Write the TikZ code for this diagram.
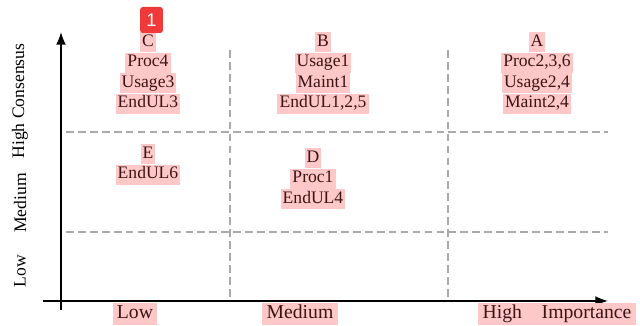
\documentclass[tikz,border=0pt]{standalone}
\usepackage{fontspec}
\setmainfont{Liberation Serif}
\setsansfont{Liberation Sans}
\usetikzlibrary{positioning, arrows.meta}
\definecolor{hl}{RGB}{255,200,200}
\definecolor{hltext}{RGB}{60,20,20}
\definecolor{gridgray}{RGB}{170,170,170}
\definecolor{badgered}{RGB}{240,58,58}

\begin{document}
\begin{tikzpicture}[x=0.025cm, y=-0.025cm, node distance=0pt,
    item/.style={fill=hl, text=hltext, font=\fontsize{12.5}{14}\selectfont,
      inner xsep=1.5pt, inner ysep=1.4pt, text height=8.8pt, text depth=2.6pt},
    level/.style={fill=hl, text=hltext, font=\fontsize{14}{16}\selectfont,
      inner xsep=3pt, inner ysep=1pt, text height=10pt, text depth=3pt},
    side/.style={rotate=90, font=\fontsize{12.5}{15}\selectfont},
    axis/.style={line width=1.2pt, -{Latex[length=9pt,width=7pt]}},
    sep/.style={draw=gridgray, line width=2pt, dash pattern=on 5.5pt off 3pt},
    badge/.style={fill=badgered, text=white, rounded corners=2pt,
      minimum width=0.57cm, minimum height=0.65cm, inner sep=0pt,
      font=\sffamily\fontsize{13}{15}\selectfont}]
  \useasboundingbox (0,0) rectangle (640,326);
  % axes
  \coordinate (ybot) at (61,310);
  \coordinate (ytop) at (61,32);
  \coordinate (xleft) at (43,301);
  \coordinate (xend) at (608,301);
  \draw[axis] (ybot) -- (ytop);
  \draw[axis] (xleft) -- (xend);
  % separators
  \coordinate (h1l) at (66,132); \coordinate (h1r) at (608,132);
  \coordinate (h2l) at (66,232); \coordinate (h2r) at (608,232);
  \coordinate (v1t) at (230,50); \coordinate (v1b) at (230,300);
  \coordinate (v2t) at (448,50); \coordinate (v2b) at (448,300);
  \draw[sep] (h1l) -- (h1r);
  \draw[sep] (h2l) -- (h2r);
  \draw[sep] (v1t) -- (v1b);
  \draw[sep] (v2t) -- (v2b);
  % groups
  \node[item] (c) at (148,42) {C};
  \node[item] (c1) [below=of c] {Proc4};
  \node[item] (c2) [below=of c1] {Usage3};
  \node[item] (c3) [below=of c2] {EndUL3};
  \node[item] (b) at (323,42) {B};
  \node[item] (b1) [below=of b] {Usage1};
  \node[item] (b2) [below=of b1] {Maint1};
  \node[item] (b3) [below=of b2] {EndUL1,2,5};
  \node[item] (a) at (537,42) {A};
  \node[item] (a1) [below=of a] {Proc2,3,6};
  \node[item] (a2) [below=of a1] {Usage2,4};
  \node[item] (a3) [below=of a2] {Maint2,4};
  \node[item] (e) at (148,154) {E};
  \node[item] (e1) [below=of e] {EndUL6};
  \node[item] (d) at (313,158) {D};
  \node[item] (d1) [below=of d] {Proc1};
  \node[item] (d2) [below=of d1] {EndUL4};
  % axis labels
  \node[level] (lowx) at (135,314) {Low};
  \node[level] (medx) at (300,314) {Medium};
  \node[level] (highx) at (557,314) {High\quad Importance};
  \node[side] (lowy) at (20,271) {Low};
  \node[side] (medy) at (20,203) {Medium};
  \node[side] (highy) at (20,101) {High Consensus};
  \node[badge] (mark) at (151.5,20) {1};
\end{tikzpicture}
\end{document}
